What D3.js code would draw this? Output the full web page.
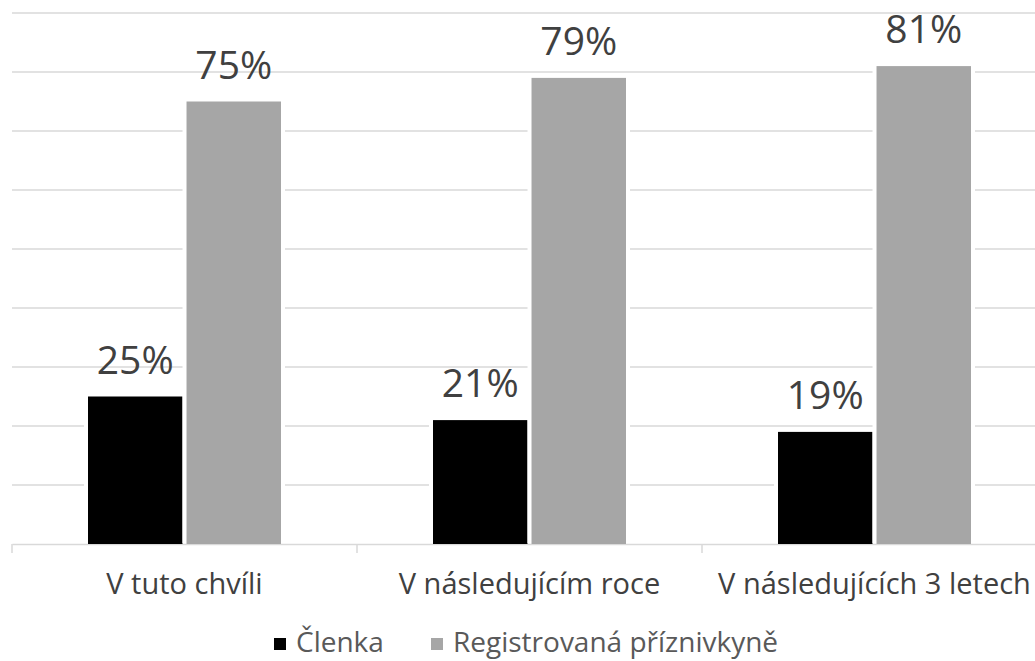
<!DOCTYPE html>
<html><head><meta charset="utf-8">
<script src="https://cdn.jsdelivr.net/npm/d3@7"></script>
<style>body{margin:0;background:#fff}svg{display:block}text{font-family:"Open Sans",sans-serif}</style>
</head><body>
<svg id="c" width="1035" height="661"></svg>
<script>
const categories = ["V tuto chvíli", "V následujícím roce", "V následujících 3 letech"];
const seriesNames = ["Členka", "Registrovaná příznivkyně"];
const clenka = [25, 21, 19];
const registrovana = [75, 79, 81];
const yTicks = [0, 10, 20, 30, 40, 50, 60, 70, 80, 90];
const colors = ["#000000", "#a6a6a6"];

const svg = d3.select("#c");
const x0 = d3.scaleBand().domain(categories).range([12, 1047]).paddingInner(0.4406).paddingOuter(0.2203);
const x1 = d3.scaleBand().domain(seriesNames).range([0, x0.bandwidth()]).paddingInner(0.041);
const y = d3.scaleLinear().domain([0, 90]).range([544, 13]);

// gridlines
svg.append("g").selectAll("line").data(yTicks.slice(1)).join("line")
  .attr("x1", 12).attr("x2", 1047)
  .attr("y1", d => y(d)).attr("y2", d => y(d))
  .attr("stroke", "#d9d9d9").attr("stroke-width", 1.5);

// axis
const ax = svg.append("g").attr("transform", "translate(0,544)")
  .call(d3.axisBottom(x0).tickSize(0).tickFormat(""));
ax.select(".domain").attr("stroke", "#d9d9d9").attr("stroke-width", 1.5);
const bounds = [0, 1, 2, 3].map(i => 12 + i * x0.step());
svg.append("g").selectAll("line").data(bounds).join("line")
  .attr("x1", d => d).attr("x2", d => d).attr("y1", 544).attr("y2", 553)
  .attr("stroke", "#d9d9d9").attr("stroke-width", 1.5);

const data = categories.map((c, i) => ({c, vals: [clenka[i], registrovana[i]]}));
const groups = svg.append("g").selectAll("g").data(data).join("g")
  .attr("transform", d => `translate(${x0(d.c)},0)`);
const bars = groups.selectAll("g").data(d => d.vals.map((v, j) => ({name: seriesNames[j], v, j}))).join("g");
// white underlay to break gridlines
bars.append("rect")
  .attr("x", d => x1(d.name) - 4).attr("width", x1.bandwidth() + 8)
  .attr("y", d => y(d.v) - 2).attr("height", d => y(0) - y(d.v) + 1)
  .attr("fill", "#fff");
bars.append("rect")
  .attr("x", d => x1(d.name)).attr("width", x1.bandwidth())
  .attr("y", d => y(d.v)).attr("height", d => y(0) - y(d.v))
  .attr("fill", d => colors[d.j]);
bars.append("text")
  .attr("x", d => x1(d.name) + x1.bandwidth() / 2)
  .attr("y", d => y(d.v) - 23)
  .attr("text-anchor", "middle").attr("font-size", 39).attr("fill", "#404040")
  .text(d => d.v + "%");

// category labels
svg.append("g").selectAll("text").data(categories).join("text")
  .attr("x", d => x0(d) + x0.bandwidth() / 2).attr("y", 594)
  .attr("text-anchor", "middle").attr("font-size", 29).attr("fill", "#404040")
  .text(d => d);

// legend
const legX = [274, 431];
const leg = svg.append("g").selectAll("g").data(seriesNames).join("g")
  .attr("transform", (d, i) => `translate(${legX[i]},0)`);
leg.append("rect").attr("x", 0).attr("y", 638).attr("width", 12).attr("height", 12)
  .attr("fill", (d, i) => colors[i]);
leg.append("text").attr("x", 22).attr("y", 652).attr("font-size", 28).attr("fill", "#595959")
  .text(d => d);
</script>
</body></html>
